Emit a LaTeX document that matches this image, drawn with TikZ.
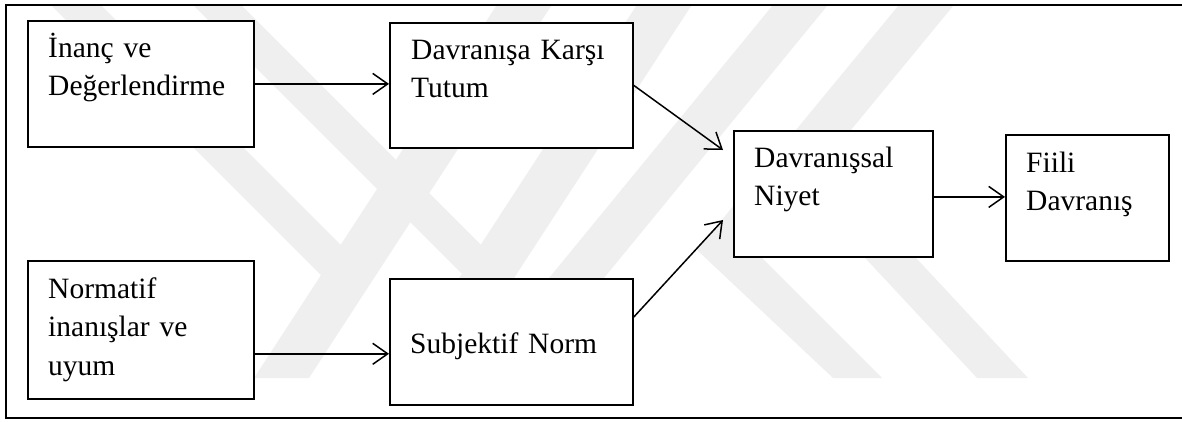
\documentclass[tikz,border=0pt]{standalone}
\usepackage{fontspec}
\setmainfont{Liberation Serif}
\usetikzlibrary{arrows.meta,calc}

\definecolor{wmgray}{HTML}{EFEFEF}

\tikzset{
  box/.style={draw, line width=1.8pt, fill=white, inner sep=0pt, anchor=north west},
  boxtext/.style={inner sep=0pt, anchor=base west, text width=230pt, align=left,
    font=\fontsize{29.5}{38.5}\selectfont},
  link/.style={line width=1.5pt, -{Straight Barb[length=15pt,width=21pt,line width=1.5pt]}},
  frame/.style={line width=2.2pt},
  wm/.style={fill=wmgray, draw=none}
}

\begin{document}
\begin{tikzpicture}[x=1pt, y=-1pt]
\useasboundingbox (0,0) rectangle (1182,421);

% faint background logo
\begin{scope}
  \clip (7,6) rectangle (1182,378);
  \fill[wm] (46,0) -- (96,0) -- (353,257) -- (333,287) -- cycle;
  \fill[wm] (188,0) -- (236,0) -- (493,257) -- (474,286) -- cycle;
  \fill[wm] (500,0) -- (555,0) -- (309,378) -- (254,378) -- cycle;
  \fill[wm] (640,0) -- (695,0) -- (449,378) -- (394,378) -- cycle;
  \fill[wm] (777,0) -- (832,0) -- (522,378) -- (467,378) -- cycle;
  \fill[wm] (903,0) -- (958,0) -- (753,249) -- (882,378) -- (833,378) -- (697,250) -- cycle;
  \fill[wm] (839,230) -- (890,230) -- (1028,378) -- (977,378) -- cycle;
\end{scope}

% outer frame, open on the right
\draw[frame] (1182,5) -- (6,5) -- (6,418) -- (1182,418);

% boxes
\node[box, minimum width=226pt, minimum height=126pt] (b1) at (27,20) {};
\node[box, minimum width=243pt, minimum height=125pt] (b2) at (389,22) {};
\node[box, minimum width=226pt, minimum height=138pt] (b3) at (27,260) {};
\node[box, minimum width=243pt, minimum height=126pt] (b4) at (389,278) {};
\node[box, minimum width=199pt, minimum height=126pt] (b5) at (733,130) {};
\node[box, minimum width=163pt, minimum height=126pt] (b6) at (1005,134) {};

% box texts
\node[boxtext] (t1) at ($(b1.north west)+(21,37)$) {İnanç ve\\Değerlendirme};
\node[boxtext] (t2) at ($(b2.north west)+(22,37)$) {Davranışa Karşı\\Tutum};
\node[boxtext] (t3) at ($(b3.north west)+(21,38)$) {Normatif\\inanışlar ve\\uyum};
\node[boxtext] (t4) at ($(b4.north west)+(21,75)$) {Subjektif Norm};
\node[boxtext] (t5) at ($(b5.north west)+(21,37)$) {Davranışsal\\Niyet};
\node[boxtext] (t6) at ($(b6.north west)+(21,38)$) {Fiili\\Davranış};

% free ends of the two converging arrows
\coordinate (in5a) at ($(b5.north west)+(-10,20)$);
\coordinate (in5b) at ($(b5.north west)+(-10,90)$);
\coordinate (out3) at ($(b3.south east)+(0,-46)$);
\coordinate (out4) at ($(b4.north east)+(0,39)$);
\coordinate (out5) at ($(b5.east)+(0,3)$);

% connectors
\draw[link] (b1.east) -- (b1.east -| b2.west);
\draw[link] (out3) -- (out3 -| b4.west);
\draw[link] (b2.east) -- (in5a);
\draw[link] (out4) -- (in5b);
\draw[link] (out5) -- (out5 -| b6.west);
\end{tikzpicture}
\end{document}
